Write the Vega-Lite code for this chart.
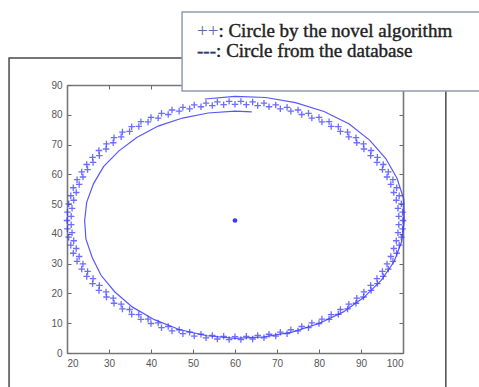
{
  "$schema": "https://vega.github.io/schema/vega-lite/v6.json",
  "width": 336,
  "height": 268,
  "autosize": {"type": "none"},
  "padding": {"left": 67, "top": 85, "right": 76, "bottom": 34},
  "background": "white",
  "config": {
    "view": {"stroke": null},
    "axis": {
      "grid": false,
      "domainColor": "#777777",
      "domainWidth": 1.6,
      "tickColor": "#666666",
      "tickWidth": 1,
      "tickSize": -4,
      "labelFont": "Liberation Sans",
      "labelFontSize": 10,
      "labelColor": "#555555",
      "title": null
    }
  },
  "datasets": {
    "algorithm": [
      {"x": 100.0, "y": 44.5}, {"x": 99.9, "y": 47.3}, {"x": 99.6, "y": 50.1}, {"x": 99.1, "y": 52.8},
      {"x": 98.5, "y": 55.5}, {"x": 97.6, "y": 58.2}, {"x": 96.5, "y": 60.8}, {"x": 95.3, "y": 63.3},
      {"x": 93.9, "y": 65.7}, {"x": 92.4, "y": 68.0}, {"x": 90.6, "y": 70.2}, {"x": 88.8, "y": 72.3},
      {"x": 86.8, "y": 74.2}, {"x": 84.6, "y": 76.0}, {"x": 82.4, "y": 77.7}, {"x": 80.0, "y": 79.1},
      {"x": 77.5, "y": 80.5}, {"x": 75.0, "y": 81.6}, {"x": 72.4, "y": 82.5}, {"x": 69.7, "y": 83.3},
      {"x": 66.9, "y": 83.9}, {"x": 64.2, "y": 84.3}, {"x": 61.4, "y": 84.5},
      {"x": 58.6, "y": 84.5}, {"x": 55.8, "y": 84.3}, {"x": 53.1, "y": 83.9}, {"x": 50.3, "y": 83.3},
      {"x": 47.6, "y": 82.5}, {"x": 45.0, "y": 81.6}, {"x": 42.5, "y": 80.5}, {"x": 40.0, "y": 79.1},
      {"x": 37.6, "y": 77.7}, {"x": 35.4, "y": 76.0}, {"x": 33.2, "y": 74.2}, {"x": 31.2, "y": 72.3},
      {"x": 29.4, "y": 70.2}, {"x": 27.6, "y": 68.0}, {"x": 26.1, "y": 65.7}, {"x": 24.7, "y": 63.3},
      {"x": 23.5, "y": 60.8}, {"x": 22.4, "y": 58.2}, {"x": 21.5, "y": 55.5}, {"x": 20.9, "y": 52.8},
      {"x": 20.4, "y": 50.1}, {"x": 20.1, "y": 47.3}, {"x": 20.0, "y": 44.5},
      {"x": 20.1, "y": 41.7}, {"x": 20.4, "y": 38.9}, {"x": 20.9, "y": 36.2}, {"x": 21.5, "y": 33.5},
      {"x": 22.4, "y": 30.8}, {"x": 23.5, "y": 28.2}, {"x": 24.7, "y": 25.7}, {"x": 26.1, "y": 23.3},
      {"x": 27.6, "y": 21.0}, {"x": 29.4, "y": 18.8}, {"x": 31.2, "y": 16.7}, {"x": 33.2, "y": 14.8},
      {"x": 35.4, "y": 13.0}, {"x": 37.6, "y": 11.3}, {"x": 40.0, "y": 9.9}, {"x": 42.5, "y": 8.5},
      {"x": 45.0, "y": 7.4}, {"x": 47.6, "y": 6.5}, {"x": 50.3, "y": 5.7}, {"x": 53.1, "y": 5.1},
      {"x": 55.8, "y": 4.7}, {"x": 58.6, "y": 4.5},
      {"x": 61.4, "y": 4.5}, {"x": 64.2, "y": 4.7}, {"x": 66.9, "y": 5.1}, {"x": 69.7, "y": 5.7},
      {"x": 72.4, "y": 6.5}, {"x": 75.0, "y": 7.4}, {"x": 77.5, "y": 8.5}, {"x": 80.0, "y": 9.9},
      {"x": 82.4, "y": 11.3}, {"x": 84.6, "y": 13.0}, {"x": 86.8, "y": 14.8}, {"x": 88.8, "y": 16.7},
      {"x": 90.6, "y": 18.8}, {"x": 92.4, "y": 21.0}, {"x": 93.9, "y": 23.3}, {"x": 95.3, "y": 25.7},
      {"x": 96.5, "y": 28.2}, {"x": 97.6, "y": 30.8}, {"x": 98.5, "y": 33.5}, {"x": 99.1, "y": 36.2},
      {"x": 99.6, "y": 38.9}, {"x": 99.9, "y": 41.7},
      {"x": 99.0, "y": 45.9}, {"x": 98.8, "y": 48.6}, {"x": 98.4, "y": 51.3}, {"x": 97.8, "y": 53.9},
      {"x": 97.1, "y": 56.6}, {"x": 96.2, "y": 59.1}, {"x": 95.1, "y": 61.6}, {"x": 93.8, "y": 64.0},
      {"x": 92.3, "y": 66.3}, {"x": 90.7, "y": 68.5}, {"x": 89.0, "y": 70.6}, {"x": 87.1, "y": 72.6},
      {"x": 85.1, "y": 74.4}, {"x": 82.9, "y": 76.1}, {"x": 80.7, "y": 77.6}, {"x": 78.3, "y": 78.9},
      {"x": 75.9, "y": 80.1}, {"x": 73.3, "y": 81.2}, {"x": 70.8, "y": 82.0}, {"x": 68.1, "y": 82.7},
      {"x": 65.4, "y": 83.1}, {"x": 62.7, "y": 83.4}, {"x": 60.0, "y": 83.5},
      {"x": 57.3, "y": 83.4}, {"x": 54.6, "y": 83.1}, {"x": 51.9, "y": 82.7}, {"x": 49.2, "y": 82.0},
      {"x": 46.7, "y": 81.2}, {"x": 44.1, "y": 80.1}, {"x": 41.7, "y": 78.9}, {"x": 39.3, "y": 77.6},
      {"x": 37.1, "y": 76.1}, {"x": 34.9, "y": 74.4}, {"x": 32.9, "y": 72.6}, {"x": 31.0, "y": 70.6},
      {"x": 29.3, "y": 68.5}, {"x": 27.7, "y": 66.3}, {"x": 26.2, "y": 64.0}, {"x": 24.9, "y": 61.6},
      {"x": 23.8, "y": 59.1}, {"x": 22.9, "y": 56.6}, {"x": 22.2, "y": 53.9}, {"x": 21.6, "y": 51.3},
      {"x": 21.2, "y": 48.6}, {"x": 21.0, "y": 45.9},
      {"x": 21.0, "y": 43.1}, {"x": 21.2, "y": 40.4}, {"x": 21.6, "y": 37.7}, {"x": 22.2, "y": 35.1},
      {"x": 22.9, "y": 32.4}, {"x": 23.8, "y": 29.9}, {"x": 24.9, "y": 27.4}, {"x": 26.2, "y": 25.0},
      {"x": 27.7, "y": 22.7}, {"x": 29.3, "y": 20.5}, {"x": 31.0, "y": 18.4}, {"x": 32.9, "y": 16.4},
      {"x": 34.9, "y": 14.6}, {"x": 37.1, "y": 12.9}, {"x": 39.3, "y": 11.4}, {"x": 41.7, "y": 10.1},
      {"x": 44.1, "y": 8.9}, {"x": 46.7, "y": 7.8}, {"x": 49.2, "y": 7.0}, {"x": 51.9, "y": 6.3},
      {"x": 54.6, "y": 5.9}, {"x": 57.3, "y": 5.6}, {"x": 60.0, "y": 5.5},
      {"x": 62.7, "y": 5.6}, {"x": 65.4, "y": 5.9}, {"x": 68.1, "y": 6.3}, {"x": 70.8, "y": 7.0},
      {"x": 73.3, "y": 7.8}, {"x": 75.9, "y": 8.9}, {"x": 78.3, "y": 10.1}, {"x": 80.7, "y": 11.4},
      {"x": 82.9, "y": 12.9}, {"x": 85.1, "y": 14.6}, {"x": 87.1, "y": 16.4}, {"x": 89.0, "y": 18.4},
      {"x": 90.7, "y": 20.5}, {"x": 92.3, "y": 22.7}, {"x": 93.8, "y": 25.0}, {"x": 95.1, "y": 27.4},
      {"x": 96.2, "y": 29.9}, {"x": 97.1, "y": 32.4}, {"x": 97.8, "y": 35.1}, {"x": 98.4, "y": 37.7},
      {"x": 98.8, "y": 40.4}, {"x": 99.0, "y": 43.1}
    ],
    "database": [
      {"i": 0, "x": 64.0, "y": 81.0}, {"i": 1, "x": 60.0, "y": 81.2}, {"i": 2, "x": 53.6, "y": 80.6},
      {"i": 3, "x": 47.5, "y": 78.9}, {"i": 4, "x": 41.7, "y": 76.2}, {"i": 5, "x": 36.6, "y": 72.4},
      {"i": 6, "x": 32.3, "y": 67.8}, {"i": 7, "x": 28.7, "y": 62.6}, {"i": 8, "x": 26.3, "y": 56.8},
      {"i": 9, "x": 24.7, "y": 50.7}, {"i": 10, "x": 24.2, "y": 44.5}, {"i": 11, "x": 24.5, "y": 38.3},
      {"i": 12, "x": 26.0, "y": 32.1}, {"i": 13, "x": 28.1, "y": 26.1}, {"i": 14, "x": 31.4, "y": 20.5},
      {"i": 15, "x": 35.6, "y": 15.4}, {"i": 16, "x": 40.8, "y": 11.2}, {"i": 17, "x": 46.7, "y": 7.9},
      {"i": 18, "x": 53.2, "y": 5.8}, {"i": 19, "x": 60.0, "y": 4.9}, {"i": 20, "x": 66.9, "y": 5.4},
      {"i": 21, "x": 73.6, "y": 7.0}, {"i": 22, "x": 80.0, "y": 9.9}, {"i": 23, "x": 85.8, "y": 13.8},
      {"i": 24, "x": 90.7, "y": 18.7}, {"i": 25, "x": 94.8, "y": 24.4}, {"i": 26, "x": 97.9, "y": 30.7},
      {"i": 27, "x": 99.7, "y": 37.5}, {"i": 28, "x": 100.3, "y": 44.5}, {"i": 29, "x": 100.2, "y": 51.6},
      {"i": 30, "x": 98.6, "y": 58.6}, {"i": 31, "x": 95.9, "y": 65.3}, {"i": 32, "x": 92.1, "y": 71.4},
      {"i": 33, "x": 87.2, "y": 76.9}, {"i": 34, "x": 81.2, "y": 81.1}, {"i": 35, "x": 74.4, "y": 84.1},
      {"i": 36, "x": 67.3, "y": 85.8}, {"i": 37, "x": 60.0, "y": 86.2}, {"i": 38, "x": 52.8, "y": 85.3}
    ],
    "centre": [{"x": 60.0, "y": 44.5}],
    "one": [{}]
  },
  "resolve": {"axis": {"x": "independent", "y": "independent"}},
  "layer": [
    {
      "data": {"name": "one"},
      "mark": {"type": "rect", "fill": null, "stroke": "#4a4a4a", "strokeWidth": 1.5, "clip": false},
      "encoding": {
        "x": {"datum": 6.2, "type": "quantitative", "scale": {"domain": [20, 100], "nice": false, "zero": false}, "axis": null},
        "x2": {"datum": 110.2},
        "y": {"datum": 99.1, "type": "quantitative", "scale": {"domain": [0, 90], "nice": false, "zero": false}, "axis": null},
        "y2": {"datum": -30}
      }
    },
    {
      "data": {"name": "algorithm"},
      "mark": {"type": "point", "shape": "M-1,0H1M0,-1V1", "filled": false, "size": 42, "stroke": "#2f2fff", "strokeWidth": 1.3, "opacity": 0.7, "clip": false},
      "encoding": {
        "x": {"field": "x", "type": "quantitative", "scale": {"domain": [20, 100], "nice": false, "zero": false},
              "axis": {"orient": "bottom", "values": [20, 30, 40, 50, 60, 70, 80, 90, 100], "labelPadding": 9}},
        "y": {"field": "y", "type": "quantitative", "scale": {"domain": [0, 90], "nice": false, "zero": false},
              "axis": {"orient": "left", "values": [0, 10, 20, 30, 40, 50, 60, 70, 80, 90], "labelPadding": 9}}
      }
    },
    {
      "data": {"name": "database"},
      "mark": {"type": "line", "stroke": "#3a3aff", "strokeWidth": 1.2, "opacity": 0.85, "clip": false},
      "encoding": {
        "order": {"field": "i", "type": "quantitative"},
        "x": {"field": "x", "type": "quantitative", "axis": null},
        "y": {"field": "y", "type": "quantitative", "axis": null}
      }
    },
    {
      "data": {"name": "centre"},
      "mark": {"type": "point", "shape": "circle", "filled": true, "size": 22, "color": "#2222ff", "opacity": 0.9},
      "encoding": {
        "x": {"field": "x", "type": "quantitative",
              "axis": {"orient": "top", "values": [20, 30, 40, 50, 60, 70, 80, 90, 100], "labels": false}},
        "y": {"field": "y", "type": "quantitative",
              "axis": {"orient": "right", "values": [0, 10, 20, 30, 40, 50, 60, 70, 80, 90], "labels": false}}
      }
    },
    {
      "data": {"name": "one"},
      "mark": {"type": "rect", "fill": "white", "stroke": "#8e9cb2", "strokeWidth": 1.5, "clip": false},
      "encoding": {
        "x": {"datum": 47.4, "type": "quantitative", "axis": null},
        "x2": {"datum": 118.6},
        "y": {"datum": 114.5, "type": "quantitative", "axis": null},
        "y2": {"datum": 88.0}
      }
    },
    {
      "data": {"name": "one"},
      "mark": {"type": "text", "text": "++", "align": "left", "baseline": "alphabetic", "font": "Liberation Serif", "fontSize": 19, "fill": "#5a6bb0", "clip": false},
      "encoding": {
        "x": {"datum": 50.95, "type": "quantitative", "axis": null},
        "y": {"datum": 106.1, "type": "quantitative", "axis": null}
      }
    },
    {
      "data": {"name": "one"},
      "mark": {"type": "text", "text": ": Circle by the novel algorithm", "align": "left", "baseline": "alphabetic", "font": "Liberation Serif", "fontSize": 19, "fill": "#222222", "stroke": "#222222", "strokeWidth": 0.4, "clip": false},
      "encoding": {
        "x": {"datum": 56.05, "type": "quantitative", "axis": null},
        "y": {"datum": 106.1, "type": "quantitative", "axis": null}
      }
    },
    {
      "data": {"name": "one"},
      "mark": {"type": "text", "text": "---", "align": "left", "baseline": "alphabetic", "font": "Liberation Serif", "fontSize": 19, "fill": "#2f3c7a", "stroke": "#2f3c7a", "strokeWidth": 0.4, "clip": false},
      "encoding": {
        "x": {"datum": 50.95, "type": "quantitative", "axis": null},
        "y": {"datum": 99.4, "type": "quantitative", "axis": null}
      }
    },
    {
      "data": {"name": "one"},
      "mark": {"type": "text", "text": ": Circle from the database", "align": "left", "baseline": "alphabetic", "font": "Liberation Serif", "fontSize": 19, "fill": "#222222", "stroke": "#222222", "strokeWidth": 0.4, "clip": false},
      "encoding": {
        "x": {"datum": 55.5, "type": "quantitative", "axis": null},
        "y": {"datum": 99.4, "type": "quantitative", "axis": null}
      }
    }
  ]
}
